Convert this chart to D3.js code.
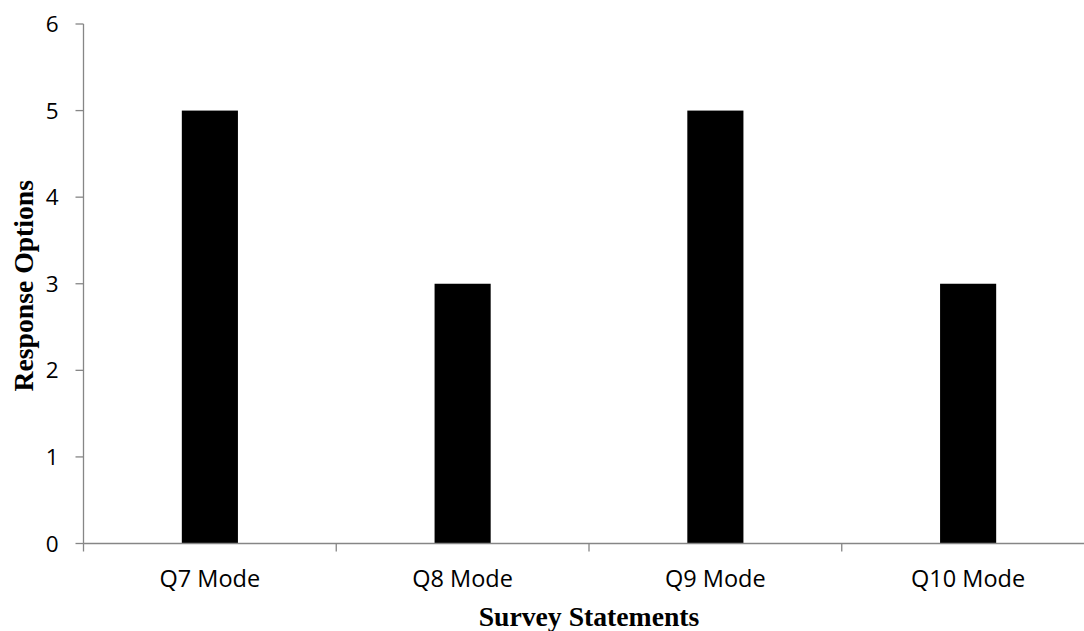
<!DOCTYPE html>
<html><head><meta charset="utf-8">
<script src="https://cdn.jsdelivr.net/npm/d3@7/dist/d3.min.js"></script>
<style>body{margin:0;background:#fff}svg{display:block}</style>
</head><body>
<svg id="c" width="1084" height="631"></svg>
<script>
const categories = ["Q7 Mode", "Q8 Mode", "Q9 Mode", "Q10 Mode"];
const values = [5, 3, 5, 3];
const yTicks = [0, 1, 2, 3, 4, 5, 6];
const xTitle = "Survey Statements";
const yTitle = "Response Options";

(function () {
const svg = d3.select("#c");
const pL = 83.5, pR = 1094.5, pT = 24, pB = 543.5;
const axisColor = "#868686";

const x = d3.scaleBand().domain(categories).range([pL, pR])
  .paddingInner(0.778).paddingOuter(0.389);
const y = d3.scaleLinear().domain([0, 6]).range([pB, pT]);
const step = x.step();

svg.selectAll("rect.bar").data(values).join("rect")
  .attr("class", "bar")
  .attr("x", (d, i) => x(categories[i]))
  .attr("width", x.bandwidth())
  .attr("y", d => y(d))
  .attr("height", d => y(0) - y(d))
  .attr("fill", "#000");

const yAxis = svg.append("g");
yAxis.append("line").attr("x1", pL).attr("x2", pL).attr("y1", y(6)).attr("y2", y(0))
  .attr("stroke", axisColor).attr("stroke-width", 1.3);
yAxis.selectAll("line.t").data(yTicks).join("line").attr("class", "t")
  .attr("x1", pL - 8).attr("x2", pL).attr("y1", d => y(d)).attr("y2", d => y(d))
  .attr("stroke", axisColor).attr("stroke-width", 1.3);
yAxis.selectAll("text").data(yTicks).join("text")
  .attr("x", 58.5).attr("y", d => y(d)).attr("dy", "0.36em")
  .attr("text-anchor", "end")
  .attr("font-family", "'Open Sans', sans-serif").attr("font-size", 22.5).attr("fill", "#000")
  .text(d => d);

const xAxis = svg.append("g");
xAxis.append("line").attr("x1", pL).attr("x2", pR).attr("y1", y(0)).attr("y2", y(0))
  .attr("stroke", axisColor).attr("stroke-width", 1.3);
const bounds = d3.range(categories.length + 1).map(i => pL + i * step);
xAxis.selectAll("line.t").data(bounds).join("line").attr("class", "t")
  .attr("x1", d => d).attr("x2", d => d).attr("y1", y(0)).attr("y2", y(0) + 8)
  .attr("stroke", axisColor).attr("stroke-width", 1.3);
xAxis.selectAll("text").data(categories).join("text")
  .attr("x", d => x(d) + x.bandwidth() / 2).attr("y", 586.5)
  .attr("text-anchor", "middle")
  .attr("font-family", "'Open Sans', sans-serif").attr("font-size", 23.5).attr("fill", "#000")
  .text(d => d);

svg.append("text").attr("x", (pL + pR) / 2).attr("y", 626)
  .attr("text-anchor", "middle")
  .attr("font-family", "'Liberation Serif', serif").attr("font-weight", "bold")
  .attr("font-size", 27.7).text(xTitle);
svg.append("text").attr("transform", `translate(33,${(pT + pB) / 2 + 2}) rotate(-90)`)
  .attr("text-anchor", "middle")
  .attr("font-family", "'Liberation Serif', serif").attr("font-weight", "bold")
  .attr("font-size", 27.7).text(yTitle);
})();
</script>
</body></html>
